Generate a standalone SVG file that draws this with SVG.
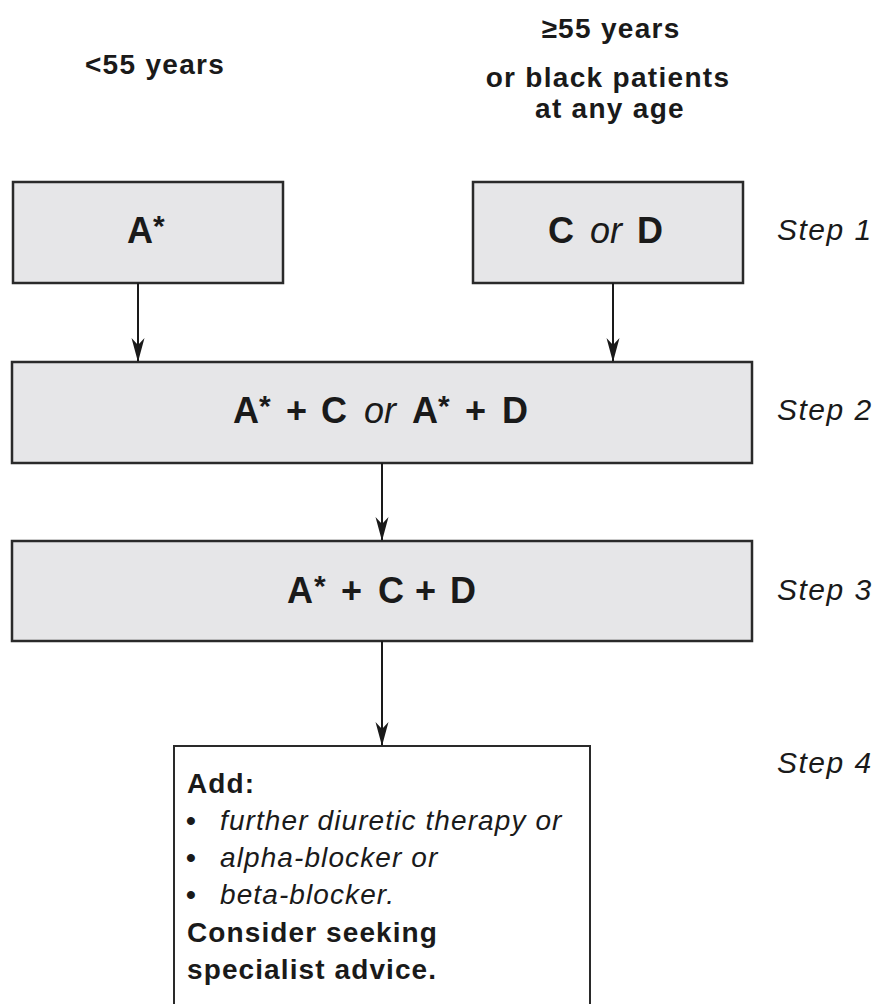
<svg xmlns="http://www.w3.org/2000/svg" width="882" height="1004" viewBox="0 0 882 1004">
<defs>
<marker id="ah" markerWidth="24" markerHeight="14" refX="23" refY="7" orient="auto" markerUnits="userSpaceOnUse" viewBox="0 0 24 14">
<path d="M0,0.5 L7,7 L0,13.5 L24,7 Z" fill="#1a1a1a"/>
</marker>
<style>
.box{fill:#e6e6e8;stroke:#2a2a2a;stroke-width:2.5}
.wbox{fill:#fff;stroke:#2a2a2a;stroke-width:2}
.lbl{font-family:"Liberation Sans",Arial,sans-serif;font-weight:bold;fill:#1a1a1a}
.big{font-size:36px}
.star{font-size:30px}
.step{font-family:"Liberation Sans",Arial,sans-serif;font-style:italic;font-size:30px;letter-spacing:1.5px;fill:#1a1a1a}
.hdr{font-family:"Liberation Sans",Arial,sans-serif;font-weight:bold;font-size:28px;letter-spacing:1.3px;fill:#1a1a1a;text-anchor:middle}
.body{font-size:28px;letter-spacing:1.1px}
.conn{stroke:#1a1a1a;stroke-width:2;fill:none}
.it{font-style:italic;font-weight:normal}
</style>
</defs>
<rect width="882" height="1004" fill="#fff"/>
<g id="headers">
<text class="hdr" x="155" y="74">&lt;55 years</text>
<text class="hdr" x="611" y="38">≥55 years</text>
<text class="hdr" x="608" y="87">or black patients</text>
<text class="hdr" x="610" y="118">at any age</text>
</g>
<g id="steps">
<text class="step" x="777" y="240">Step 1</text>
<text class="step" x="777" y="420">Step 2</text>
<text class="step" x="777" y="600">Step 3</text>
<text class="step" x="777" y="773">Step 4</text>
</g>
<g id="n1">
<rect class="box" x="13" y="182" width="270" height="101"/>
<text class="lbl big" y="243"><tspan x="127">A</tspan><tspan x="153" y="236" class="star">*</tspan></text>
</g>
<g id="n2">
<rect class="box" x="473" y="182" width="270" height="101"/>
<text class="lbl big" y="243"><tspan x="548">C</tspan><tspan x="590" class="it">or</tspan><tspan x="637">D</tspan></text>
</g>
<g id="n3">
<rect class="box" x="12" y="362" width="740" height="101"/>
<text class="lbl big" y="423"><tspan x="233">A</tspan><tspan x="259" y="416" class="star">*</tspan><tspan x="286" y="423">+</tspan><tspan x="321">C</tspan><tspan x="364" class="it">or</tspan><tspan x="412">A</tspan><tspan x="438" y="416" class="star">*</tspan><tspan x="465" y="423">+</tspan><tspan x="502">D</tspan></text>
</g>
<g id="n4">
<rect class="box" x="12" y="541" width="740" height="100"/>
<text class="lbl big" y="603"><tspan x="287">A</tspan><tspan x="314" y="596" class="star">*</tspan><tspan x="341" y="603">+</tspan><tspan x="378">C</tspan><tspan x="415">+</tspan><tspan x="450">D</tspan></text>
</g>
<g id="n5">
<rect class="wbox" x="174" y="746" width="416" height="270"/>
<g class="lbl body">
<text x="187" y="793">Add:</text>
<text x="186" y="830">•</text><text x="220" y="830" class="it">further diuretic therapy or</text>
<text x="186" y="867">•</text><text x="220" y="867" class="it">alpha-blocker or</text>
<text x="186" y="904">•</text><text x="220" y="904" class="it">beta-blocker.</text>
<text x="187" y="942">Consider seeking</text>
<text x="187" y="979">specialist advice.</text>
</g>
</g>
<g id="connectors">
<line class="conn" x1="138" y1="283" x2="138" y2="361" marker-end="url(#ah)"/>
<line class="conn" x1="613" y1="283" x2="613" y2="361" marker-end="url(#ah)"/>
<line class="conn" x1="382" y1="463" x2="382" y2="540" marker-end="url(#ah)"/>
<line class="conn" x1="382" y1="641" x2="382" y2="745" marker-end="url(#ah)"/>
</g>
</svg>
